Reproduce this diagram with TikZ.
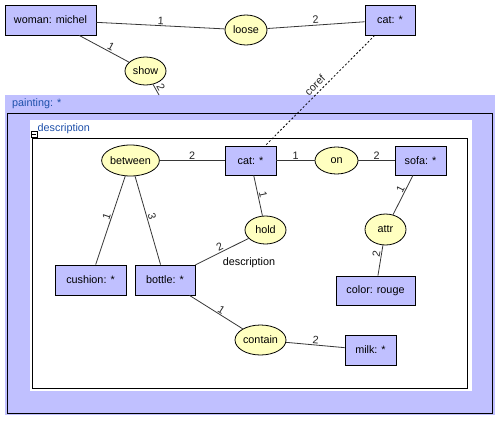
\documentclass[tikz,border=0pt]{standalone}
\usepackage{fontspec}
\setmainfont{Liberation Sans}
\usetikzlibrary{shapes.geometric}
\definecolor{lav}{RGB}{192,192,255}
\definecolor{yel}{RGB}{255,255,192}
\definecolor{cblue}{RGB}{30,80,170}
\definecolor{edgec}{RGB}{55,55,55}
\newcommand{\dfont}{\fontsize{10.8}{12}\selectfont}
\tikzset{
  concept/.style={draw=black, fill=lav, line width=0.8pt, rectangle, inner sep=0pt, font=\dfont},
  rel/.style={draw=black, fill=yel, ellipse, inner sep=0pt, line width=0.8pt, font=\dfont},
  conn/.style={draw=edgec, line width=0.8pt},
  lbl/.style={font=\dfont, text=black!85, inner sep=1pt, sloped, above},
  ctxlabel/.style={text=cblue, font=\dfont, anchor=west, inner sep=0pt},
  corefline/.style={draw=black, line width=0.8pt, dash pattern=on 2pt off 2pt},
}
\begin{document}
\begin{tikzpicture}[x=1pt,y=-1pt]
\useasboundingbox (0,0) rectangle (502,423);
\fill[white] (0,0) rectangle (502,423);
% painting context
\fill[lav] (5,95) rectangle (495,415);
\draw[black, line width=0.8pt] (7,113) rectangle (492,413);
\node[ctxlabel] (painting) at (12,104) {painting: *};
% description context
\fill[white] (30,120) rectangle (472,391);
\draw[black, line width=0.8pt] (32,138) rectangle (467,388);
\node[ctxlabel] (desclabel) at (37.5,129) {description};
\draw[black, fill=white, line width=0.6pt] (31,131) rectangle (37,137);
\draw[black, line width=0.6pt] (32.2,134) -- (35.8,134);
\coordinate (paintTop) at (159,95);

% outer graph
\node[concept, minimum width=91pt, minimum height=30pt] (woman) at (50.5,20) {woman: michel};
\node[rel, minimum width=42pt, minimum height=30pt] (loose) at (246,30) {loose};
\node[concept, minimum width=50pt, minimum height=30pt] (catT) at (390,20) {cat: *};
\node[rel, minimum width=41pt, minimum height=28pt] (show) at (145.5,71) {show};

% inner graph
\node[rel, minimum width=51pt, minimum height=31pt] (between) at (130.5,160.5) {between};
\node[concept, minimum width=51pt, minimum height=29pt] (catI) at (250.5,160.5) {cat: *};
\node[rel, minimum width=43pt, minimum height=27pt] (on) at (336.5,160.5) {on};
\node[concept, minimum width=51pt, minimum height=29pt] (sofa) at (420.5,160.5) {sofa: *};
\node[rel, minimum width=41pt, minimum height=28pt] (hold) at (265.5,230) {hold};
\node[font=\dfont, inner sep=0pt] (holddesc) at (249,263) {description};
\node[rel, minimum width=41pt, minimum height=31pt] (attr) at (385.5,229.5) {attr};
\node[concept, minimum width=79pt, minimum height=29pt] (color) at (375.5,290.5) {color: rouge};
\node[concept, minimum width=71pt, minimum height=30pt] (cushion) at (90.5,280) {cushion: *};
\node[concept, minimum width=60pt, minimum height=30pt] (bottle) at (165,280) {bottle: *};
\node[rel, minimum width=51pt, minimum height=30pt] (contain) at (260.5,340) {contain};
\node[concept, minimum width=51pt, minimum height=30pt] (milk) at (370.5,350) {milk: *};

% connectors
\draw[conn] (woman) -- node[lbl, pos=0.5] {1} (loose);
\draw[conn] (loose) -- node[lbl, pos=0.5] {2} (catT);
\draw[conn] (woman) -- node[lbl, pos=0.59] {1} (show);
\draw[conn] (show) -- node[lbl, pos=0.55] {2} (paintTop);
\draw[corefline] (catT) -- node[lbl, pos=0.5, above=2pt] {coref} (catI);

\draw[conn] (between) -- node[lbl, pos=0.5] {2} (catI);
\draw[conn] (catI) -- node[lbl, pos=0.5] {1} (on);
\draw[conn] (on) -- node[lbl, pos=0.5] {2} (sofa);
\draw[conn] (catI) -- node[lbl, pos=0.5] {1} (hold);
\draw[conn] (hold) -- node[lbl, pos=0.5] {2} (bottle);
\draw[conn] (sofa) -- node[lbl, pos=0.4] {1} (attr);
\draw[conn] (attr) -- node[lbl, pos=0.3] {2} (color);
\draw[conn] (between) -- node[lbl, pos=0.47] {1} (cushion);
\draw[conn] (between) -- node[lbl, pos=0.47] {3} (bottle);
\draw[conn] (bottle) -- node[lbl, pos=0.55] {1} (contain);
\draw[conn] (contain) -- node[lbl, pos=0.5] {2} (milk);
\end{tikzpicture}
\end{document}
